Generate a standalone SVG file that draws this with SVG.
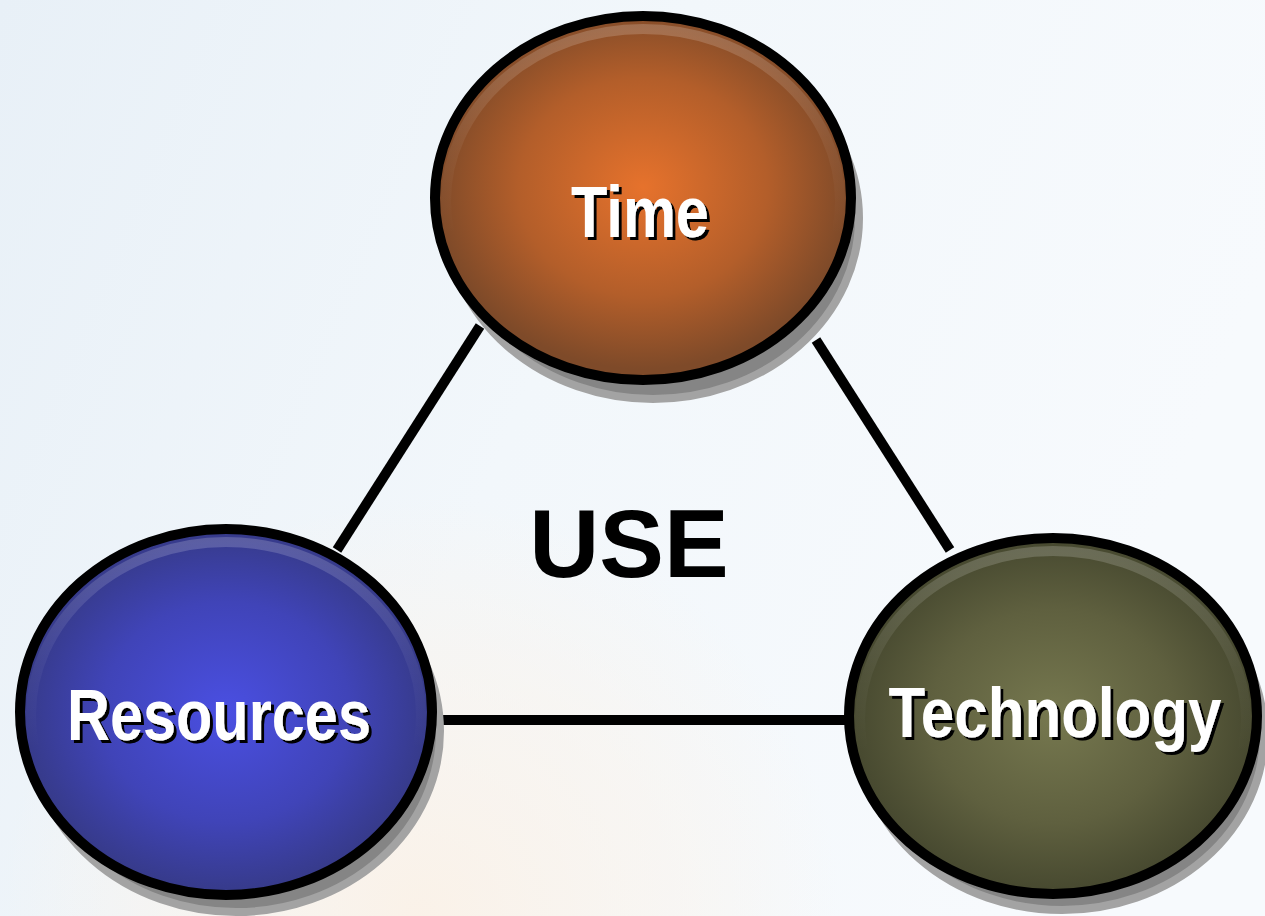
<svg xmlns="http://www.w3.org/2000/svg" width="1265" height="916" viewBox="0 0 1265 916">
  <defs>
    <linearGradient id="bg" x1="0" y1="0" x2="1" y2="0.3">
      <stop offset="0" stop-color="#e8f0f7"/>
      <stop offset="0.5" stop-color="#f2f7fb"/>
      <stop offset="1" stop-color="#f7fafd"/>
    </linearGradient>
    <radialGradient id="bgwarm" gradientUnits="userSpaceOnUse" cx="420" cy="916" r="420">
      <stop offset="0" stop-color="#fbf1e6" stop-opacity="0.9"/>
      <stop offset="0.6" stop-color="#fbf3ea" stop-opacity="0.5"/>
      <stop offset="1" stop-color="#fbf3ea" stop-opacity="0"/>
    </radialGradient>
    <radialGradient id="gTime" cx="0.5" cy="0.47" r="0.5">
      <stop offset="0" stop-color="#e6722c"/>
      <stop offset="0.6" stop-color="#b35e2a"/>
      <stop offset="1" stop-color="#7e4a29"/>
    </radialGradient>
    <radialGradient id="gRes" cx="0.5" cy="0.5" r="0.5">
      <stop offset="0" stop-color="#4a4fe2"/>
      <stop offset="0.6" stop-color="#4044b8"/>
      <stop offset="1" stop-color="#363a88"/>
    </radialGradient>
    <radialGradient id="gTech" cx="0.5" cy="0.5" r="0.5">
      <stop offset="0" stop-color="#76784f"/>
      <stop offset="0.6" stop-color="#5f603f"/>
      <stop offset="1" stop-color="#46482f"/>
    </radialGradient>
    <linearGradient id="rim" x1="0" y1="0" x2="0" y2="1">
      <stop offset="0" stop-color="#ffffff" stop-opacity="0.18"/>
      <stop offset="0.35" stop-color="#ffffff" stop-opacity="0.05"/>
      <stop offset="0.6" stop-color="#ffffff" stop-opacity="0"/>
    </linearGradient>
    <filter id="ts" x="-10%" y="-20%" width="120%" height="150%">
      <feDropShadow dx="3" dy="3" stdDeviation="0" flood-color="#000" flood-opacity="1"/>
    </filter>
  </defs>
  <style>
    .shadow { fill: #858585; stroke: #a3a3a3; stroke-width: 8; }
    .body { stroke: #000; stroke-width: 10; }
    .rim { fill: none; stroke: url(#rim); stroke-width: 10; }
    .lbl { font-family: "Liberation Sans", Arial, sans-serif; font-weight: bold; text-anchor: middle; fill: #fff; filter: url(#ts); }
    .conn line { stroke: #000; stroke-width: 10; }
    .use { font-family: "Liberation Sans", Arial, sans-serif; font-weight: bold; font-size: 97px; fill: #000; text-anchor: middle; }
  </style>

  <rect x="0" y="0" width="1265" height="916" fill="url(#bg)"/>
  <rect x="0" y="496" width="1265" height="420" fill="url(#bgwarm)"/>

  <g id="connectors" class="conn">
    <line x1="337" y1="550" x2="480" y2="326"/>
    <line x1="816" y1="340" x2="950" y2="550"/>
    <line x1="440" y1="720" x2="848" y2="720"/>
  </g>

  <g id="node-time">
    <ellipse class="shadow" cx="653" cy="218" rx="206" ry="181"/>
    <ellipse class="body" cx="643" cy="198" rx="208" ry="182" fill="url(#gTime)"/>
    <ellipse class="rim" cx="643" cy="201" rx="197" ry="172"/>
    <text class="lbl" x="640" y="237" font-size="73" textLength="138" lengthAdjust="spacingAndGlyphs">Time</text>
  </g>

  <g id="node-resources">
    <ellipse class="shadow" cx="236" cy="731" rx="204" ry="181"/>
    <ellipse class="body" cx="226" cy="712" rx="206" ry="183" fill="url(#gRes)"/>
    <ellipse class="rim" cx="226" cy="715" rx="195" ry="173"/>
    <text class="lbl" x="219" y="740" font-size="72" textLength="304" lengthAdjust="spacingAndGlyphs">Resources</text>
  </g>

  <g id="node-technology">
    <ellipse class="shadow" cx="1062" cy="734" rx="202" ry="176"/>
    <ellipse class="body" cx="1053" cy="716" rx="204" ry="178" fill="url(#gTech)"/>
    <ellipse class="rim" cx="1053" cy="719" rx="193" ry="168"/>
    <text class="lbl" x="1055" y="737" font-size="70" textLength="333" lengthAdjust="spacingAndGlyphs">Technology</text>
  </g>

  <g id="center-label">
    <text class="use" x="629" y="577">USE</text>
  </g>
</svg>
